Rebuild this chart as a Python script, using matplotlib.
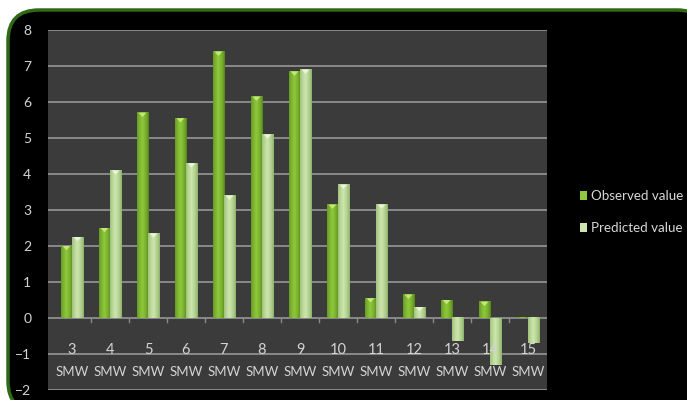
import numpy as np
import matplotlib
matplotlib.use('Agg')
import matplotlib.pyplot as plt
from matplotlib.patches import FancyBboxPatch, Patch, Polygon

plt.rcParams['font.family'] = ['Lato', 'DejaVu Sans']

weeks = ['3', '4', '5', '6', '7', '8', '9', '10', '11', '12', '13', '14', '15']
observed = [2.0, 2.5, 5.7, 5.55, 7.4, 6.15, 6.85, 3.15, 0.55, 0.65, 0.5, 0.45, 0.02]
predicted = [2.25, 4.1, 2.35, 4.3, 3.4, 5.1, 6.9, 3.7, 3.15, 0.3, -0.65, -1.3, -0.7]

fig = plt.figure(figsize=(6.87, 4.0), dpi=100)
fig.patch.set_facecolor('white')

# dark rounded panel with green rim
W, H = 687, 400
panel = FancyBboxPatch((8 / W, -12 / H), 700 / W, 402 / H,
                       boxstyle='round,pad=0,rounding_size=0.045',
                       transform=fig.transFigure, facecolor='black',
                       edgecolor='#2e6a16', linewidth=2.5,
                       mutation_aspect=W / H, zorder=0)
fig.patches.append(panel)

ax = fig.add_axes([48 / W, 10 / H, 499 / W, 360 / H])
ax.set_zorder(2)
ax.set_facecolor('#3b3b3b')
x = np.arange(len(weeks))
bw = 0.29


def shaded_bar(xc, val, edge, mid, cap):
    left = xc - bw / 2
    lo, hi = min(0, val), max(0, val)
    if hi - lo < 1e-6:
        return
    c0 = np.array(matplotlib.colors.to_rgb(edge))
    c1 = np.array(matplotlib.colors.to_rgb(mid))
    t = np.linspace(0, 1, 32)
    w = np.clip(1 - np.abs(t - 0.45) / 0.55, 0, 1) ** 0.6
    grad = c0[None, :] * (1 - w[:, None]) + c1[None, :] * w[:, None]
    ax.imshow(grad[None, :, :], extent=(left, left + bw, lo, hi),
              aspect='auto', zorder=3, interpolation='bilinear')
    if val > 0.05:
        tri = Polygon([(left + bw * 0.15, hi), (left + bw * 0.85, hi),
                       (left + bw * 0.5, hi - 0.12)], closed=True,
                      facecolor=cap, edgecolor='none', zorder=4)
        ax.add_patch(tri)


for i in range(len(weeks)):
    shaded_bar(x[i] - bw / 2, observed[i], '#4f8215', '#8fc83c', '#c4e67a')
    shaded_bar(x[i] + bw / 2, predicted[i], '#86ad62', '#cde6ad', '#eaf5d8')

ax.set_xlim(-0.63, len(weeks) - 0.5)
ax.set_ylim(-2, 8)

ax.set_yticks(range(-2, 9))
ax.yaxis.grid(True, color='#8a8a8a', linewidth=1.4, zorder=1)
ax.set_axisbelow(True)
ax.tick_params(axis='y', length=0, labelcolor='#d4d4d4', labelsize=10, pad=12)
ax.set_xticks([])
for s in ax.spines.values():
    s.set_visible(False)

# small ticks along the zero line between categories
for b in np.arange(0.5, len(weeks) - 0.5, 1):
    ax.plot([b, b], [0, -0.1], color='#8a8a8a', linewidth=1, zorder=2)

for i, wk in enumerate(weeks):
    ax.text(x[i], -0.88, wk, ha='center', va='center', color='#d4d4d4', fontsize=10.5, zorder=5)
    ax.text(x[i], -1.5, 'SMW', ha='center', va='center', color='#d4d4d4', fontsize=9.5, zorder=5)

handles = [Patch(facecolor='#8fc83c', edgecolor='none', label='Observed value'),
           Patch(facecolor='#cde6ad', edgecolor='none', label='Predicted value')]
leg = fig.legend(handles=handles, loc='center left', bbox_to_anchor=(580 / W, 1 - 212 / H),
                 frameon=False, labelcolor='#d8d8d8', fontsize=9.6,
                 handlelength=0.55, handleheight=0.7, handletextpad=0.3, labelspacing=1.5,
                 borderpad=0, borderaxespad=0)
leg.set_zorder(3)

fig.savefig('out.png', dpi=100, facecolor='white')
